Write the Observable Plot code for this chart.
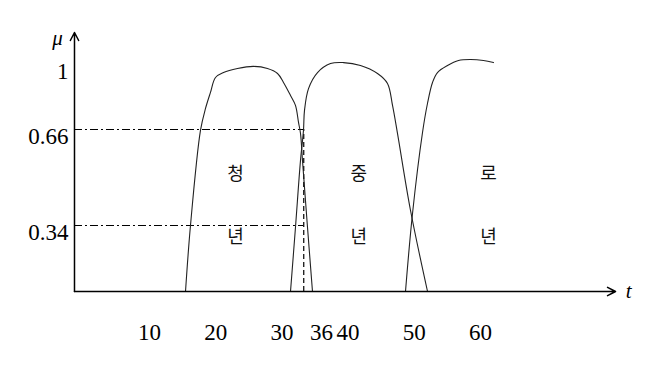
<!DOCTYPE html>
<html>
<head>
<meta charset="utf-8">
<script src="https://cdn.jsdelivr.net/npm/d3@7"></script>
<script src="https://cdn.jsdelivr.net/npm/@observablehq/plot@0.6"></script>
<style>
  html, body { margin: 0; padding: 0; background: #fff; }
  #chart svg { display: block; }
</style>
</head>
<body>
<div id="chart"></div>
<script>
// ---- data ----
const youngT  = [15.44, 16.19, 17.70, 18.46, 19.21, 19.97, 21.18, 23.29, 25.71, 27.82, 29.34, 30.24, 31.30, 32.05, 32.51, 32.81, 33.11, 33.87, 34.62];
const youngMu = [0, 0.34, 0.657, 0.770, 0.854, 0.932, 0.958, 0.979, 0.990, 0.979, 0.953, 0.906, 0.838, 0.786, 0.697, 0.647, 0.557, 0.330, 0];

const middleT  = [31.30, 32.05, 32.81, 33.26, 33.41, 34.02, 35.38, 37.34, 39.31, 41.87, 44.44, 45.95, 46.71, 47.46, 49.43, 52.0];
const middleMu = [0, 0.330, 0.557, 0.657, 0.759, 0.874, 0.958, 1.006, 1.012, 0.995, 0.953, 0.901, 0.786, 0.647, 0.39, 0];

const oldT  = [48.67, 49.73, 51.24, 51.99, 52.75, 53.50, 55.02, 56.68, 58.49, 60.45, 61.96];
const oldMu = [0, 0.38, 0.65, 0.796, 0.906, 0.958, 0.995, 1.025, 1.031, 1.025, 1.012];

const groupNames = ["청년", "중년", "로년"];
const groupT = [23, 41.6, 61.2];
const groupCharMu = [0.51, 0.28];

const xTicks = [10, 20, 30, 36, 40, 50, 60];
const yTicks = [1, 0.66, 0.34];
const levels = [0.66, 0.34];
const crossT = 33.3;
const axisT = [-1.33, 80.4];
const axisMuTop = 1.2;
const axisNames = [{text: "μ", t: -3.9, mu: 1.1625}, {text: "t", t: 82.4, mu: 0}];

// ---- build tables ----
const curves = [
  {name: groupNames[0], t: youngT, mu: youngMu},
  {name: groupNames[1], t: middleT, mu: middleMu},
  {name: groupNames[2], t: oldT, mu: oldMu}
].flatMap(s => s.t.map((t, i) => ({name: s.name, t, mu: s.mu[i]})));

const chars = groupNames.flatMap((g, i) =>
  [...g].map((c, j) => ({c, t: groupT[i], mu: groupCharMu[j]})));

const serif = "'Liberation Serif', 'DejaVu Serif', serif";

const chart = Plot.plot({
  width: 655,
  height: 370,
  marginLeft: 74,
  marginRight: 40,
  marginTop: 32,
  marginBottom: 79,
  style: {fontFamily: serif, background: "#fff", color: "#000"},
  x: {type: "linear", domain: [10, 60], range: [149, 480]},
  y: {type: "linear", domain: [0, 0.34, 0.66, 1, axisMuTop], range: [291, 225, 129, 64, 32]},
  marks: [
    // reference lines
    Plot.ruleY(levels, {x1: axisT[0], x2: crossT, stroke: "#000", strokeWidth: 1, strokeDasharray: "8,3,2,3"}),
    Plot.ruleX([crossT], {y1: 0, y2: levels[0], stroke: "#000", strokeWidth: 1.2, strokeDasharray: "5,3"}),
    // membership curves
    Plot.line(curves, {x: "t", y: "mu", z: "name", curve: "catmull-rom", stroke: "#222", strokeWidth: 1.1}),
    // axes with arrows
    Plot.arrow([0], {x1: axisT[0], y1: 0, x2: axisT[1], y2: 0, stroke: "#000", strokeWidth: 1.5, headLength: 9, headAngle: 55}),
    Plot.arrow([0], {x1: axisT[0], y1: 0, x2: axisT[0], y2: axisMuTop, stroke: "#000", strokeWidth: 1.5, headLength: 9, headAngle: 55}),
    // tick labels
    Plot.axisX(xTicks, {anchor: "bottom", tickSize: 0, tickPadding: 32, label: null, fontSize: 23, fill: "#000"}),
    Plot.axisY(yTicks, {anchor: "left", tickSize: 0, tickPadding: 6, dy: 7, label: null, fontSize: 23, fill: "#000", tickFormat: d => String(d)}),
    // axis names
    Plot.text(axisNames, {x: "t", y: "mu", text: "text", fontSize: 21, fontStyle: "italic", fill: "#000"}),
    // group labels
    Plot.text(chars, {x: "t", y: "mu", text: "c", fontSize: 18, fontFamily: "'Noto Sans CJK KR', sans-serif", fill: "#111"})
  ]
});

document.getElementById("chart").appendChild(chart);
</script>
</body>
</html>
